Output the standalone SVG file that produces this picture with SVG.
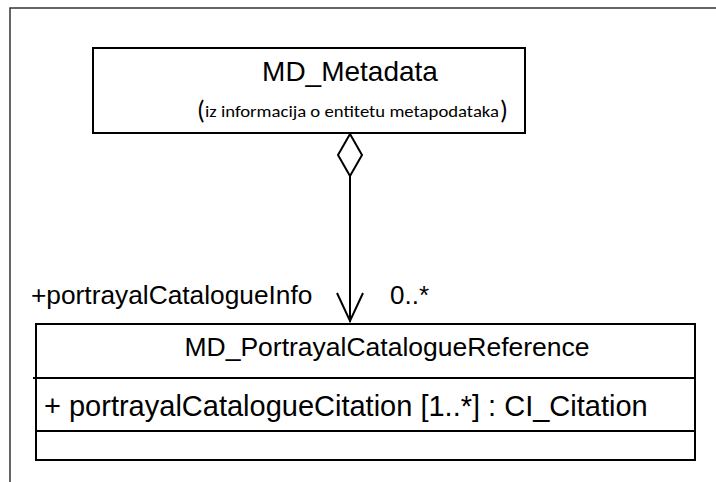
<svg xmlns="http://www.w3.org/2000/svg" width="716" height="482" viewBox="0 0 716 482">
<style>
.box{fill:#fff;stroke:#000;stroke-width:2}
.ln{stroke:#000;stroke-width:2;fill:none}
.t{font-family:"Liberation Sans",Arial,sans-serif;fill:#000}
.c{font-family:Carlito,"Open Sans","Liberation Sans",sans-serif;fill:#000}
</style>
<rect width="716" height="482" fill="#fff"/>
<g id="frame">
<path d="M716 8 H10 V482" fill="none" stroke="#333" stroke-width="1.5"/>
</g>
<g id="md_metadata">
<rect class="box" x="93" y="48" width="432" height="85"/>
<text class="t" x="350" y="81" font-size="28" text-anchor="middle">MD_Metadata</text>
<text class="c" x="197" y="119" font-size="26">(</text>
<text class="c" x="205" y="117" font-size="16" textLength="294" lengthAdjust="spacingAndGlyphs">iz informacija o entitetu metapodataka</text>
<text class="c" x="500" y="119" font-size="26">)</text>
</g>
<g id="md_portrayal">
<rect class="box" x="36" y="324" width="659" height="136"/>
<line class="ln" x1="33" y1="378" x2="695" y2="378"/>
<line class="ln" x1="36" y1="431" x2="695" y2="431"/>
<text class="t" x="387" y="356" font-size="26.5" text-anchor="middle">MD_PortrayalCatalogueReference</text>
<text class="t" x="44" y="416" font-size="29">+ portrayalCatalogueCitation [1..*] : CI_Citation</text>
</g>
<g id="connectors">
<path class="ln" d="M350 134 L362 155 L350 176 L338 155 Z" fill="#fff"/>
<line class="ln" x1="350" y1="176" x2="350" y2="322"/>
<path class="ln" d="M337 293 L350 321 L363 293"/>
<text class="t" x="31" y="304" font-size="26.3">+portrayalCatalogueInfo</text>
<text class="t" x="390" y="304" font-size="26">0..*</text>
</g>
</svg>
